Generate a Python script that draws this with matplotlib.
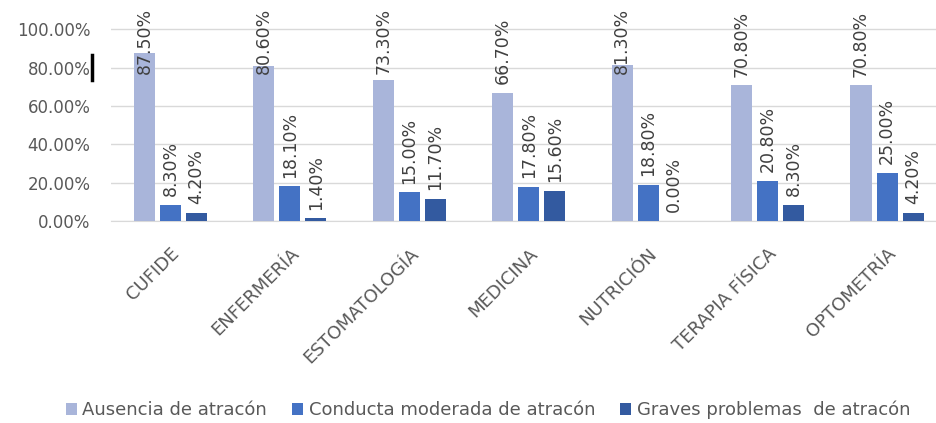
import matplotlib
matplotlib.use('Agg')
import matplotlib.pyplot as plt
from matplotlib.lines import Line2D
import numpy as np

# datos del gráfico
carreras = ['CUFIDE', 'ENFERMERÍA', 'ESTOMATOLOGÍA', 'MEDICINA',
            'NUTRICIÓN', 'TERAPIA FÍSICA', 'OPTOMETRÍA']
series = ['Ausencia de atracón', 'Conducta moderada de atracón',
          'Graves problemas  de atracón']
ausencia = [87.5, 80.6, 73.3, 66.7, 81.3, 70.8, 70.8]
moderada = [8.3, 18.1, 15.0, 17.8, 18.8, 20.8, 25.0]
graves = [4.2, 1.4, 11.7, 15.6, 0.0, 8.3, 4.2]
yticks = [0, 20, 40, 60, 80, 100]

colores = ['#A9B5DA', '#4472C4', '#335AA0']
gris = '#595959'

plt.rcParams['font.family'] = ['DejaVu Sans']

fig = plt.figure(figsize=(9.36, 4.23), dpi=100)
ax = fig.add_axes([110.75 / 936, 202 / 423, 836 / 936, 221 / 423])

x = np.arange(len(carreras))
ancho = 0.176
paso = 0.218
for k, (vals, nombre, col) in enumerate(zip([ausencia, moderada, graves], series, colores)):
    xs = x + (k - 1) * paso
    ax.bar(xs, vals, width=ancho, color=col, label=nombre, zorder=3)
    for xi, v in zip(xs, vals):
        # etiqueta arriba de la barra, limitada al borde superior
        yb = min(v + 4.5, 76.5)
        ax.text(xi, yb, f'{v:.2f}%', rotation=90, ha='center', va='bottom',
                fontsize=12.5, color='#404040', zorder=4)

ax.set_xlim(-0.5, len(carreras) - 0.5)
ax.set_ylim(0, 115.2)
ax.set_yticks(yticks)
ax.set_yticklabels([f'{t:.2f}%' for t in yticks], fontsize=12, color=gris)
ax.set_xticks(x)
ax.set_xticklabels(carreras, rotation=45, ha='right', rotation_mode='anchor',
                   fontsize=13, color=gris)
ax.tick_params(axis='both', length=0)
ax.tick_params(axis='y', pad=14.5)
ax.tick_params(axis='x', pad=17)

ax.grid(axis='y', color='#D9D9D9', linewidth=1, zorder=0)
for s in ['top', 'right', 'left']:
    ax.spines[s].set_visible(False)
ax.spines['bottom'].set_color('#D9D9D9')

# marca negra junto al 80%
fig.add_artist(Line2D([92 / 936, 92 / 936], [1 - 55 / 423, 1 - 80 / 423],
                      color='black', linewidth=2.5))

ax.legend(loc='center', bbox_to_anchor=(488 / 936, 1 - 410 / 423),
          bbox_transform=fig.transFigure, ncol=3, frameon=False,
          fontsize=13, labelcolor=gris, handlelength=0.6, handleheight=0.6,
          handletextpad=0.3, columnspacing=1.4)

fig.savefig('out.png', dpi=100)
